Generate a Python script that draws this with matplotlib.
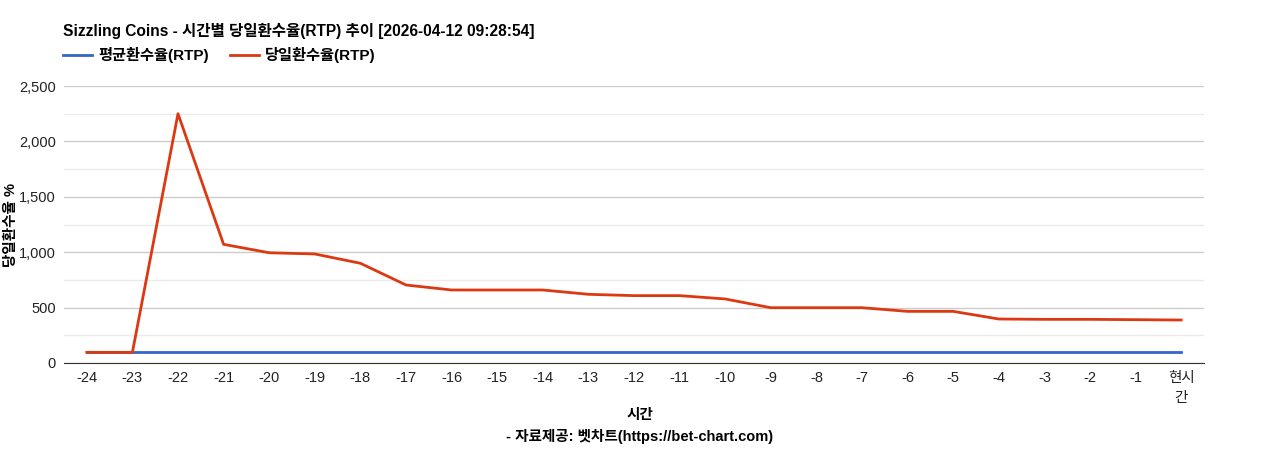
import matplotlib.pyplot as plt
from matplotlib.ticker import MultipleLocator, FuncFormatter
from matplotlib.lines import Line2D

plt.rcParams['font.family'] = ['Liberation Sans', 'Noto Sans CJK KR', 'DejaVu Sans']

# data
hours = ['-24', '-23', '-22', '-21', '-20', '-19', '-18', '-17', '-16', '-15', '-14', '-13',
         '-12', '-11', '-10', '-9', '-8', '-7', '-6', '-5', '-4', '-3', '-2', '-1', '현시\n간']
avg_rtp = [96] * 25
day_rtp = [96, 96, 2250, 1071, 995, 984, 900, 704, 659, 659, 659, 620,
           608, 608, 578, 499, 499, 499, 466, 466, 397, 394, 394, 391, 388]

blue = '#3366cc'
red = '#dc3912'

fig = plt.figure(figsize=(12.68, 4.5), dpi=100)
ax = fig.add_axes([64 / 1268, 87 / 450, 1140 / 1268, 277 / 450])

x = list(range(len(hours)))
ax.plot(x, avg_rtp, color=blue, lw=2, zorder=3)
ax.plot(x, day_rtp, color=red, lw=2, zorder=4)

ax.set_xlim(-0.5, len(hours) - 0.5)
ax.set_ylim(0, 2500)
ax.set_xticks(x)
ax.set_xticklabels(hours, fontsize=10.5, color='#222222', linespacing=1.5)
ax.yaxis.set_major_locator(MultipleLocator(500))
ax.yaxis.set_minor_locator(MultipleLocator(250))
ax.yaxis.set_major_formatter(FuncFormatter(lambda v, p: f'{int(v):,}'))
ax.tick_params(axis='y', labelsize=10.5, colors='#222222', length=0, which='both', pad=6)
ax.tick_params(axis='x', length=0, pad=6)
ax.grid(axis='y', which='major', color='#cccccc', lw=1)
ax.grid(axis='y', which='minor', color='#ebebeb', lw=1)
ax.set_axisbelow(True)
for s in ['top', 'right', 'left']:
    ax.spines[s].set_visible(False)
ax.spines['bottom'].set_color('#333333')
ax.spines['bottom'].set_zorder(5)

# y label placed by hand so it stays inside the figure
fig.text(11 / 1268, 1 - 225 / 450, '당일환수율 %', rotation=90, ha='center', va='center',
         fontsize=10.5, fontweight='bold')
fig.text(640 / 1268, 1 - 415 / 450, '시간', ha='center', va='center', fontsize=10.5, fontweight='bold')
fig.text(640 / 1268, 1 - 437 / 450, '- 자료제공: 벳차트(https://bet-chart.com)', ha='center', va='center',
         fontsize=10.5, fontweight='bold')

fig.text(63 / 1268, 1 - 31 / 450, 'Sizzling Coins - 시간별 당일환수율(RTP) 추이 [2026-04-12 09:28:54]',
         ha='left', va='center', fontsize=11.2, fontweight='bold')

handles = [Line2D([], [], color=blue, lw=2), Line2D([], [], color=red, lw=2)]
fig.legend(handles, ['평균환수율(RTP)', '당일환수율(RTP)'], loc='center left',
           bbox_to_anchor=(63 / 1268, 1 - 55 / 450), ncol=2, frameon=False, borderpad=0,
           borderaxespad=0, prop={'size': 11, 'weight': 'bold'}, handlelength=1.9,
           handletextpad=0.4, columnspacing=1.4)

fig.savefig('out.png', dpi=100)
